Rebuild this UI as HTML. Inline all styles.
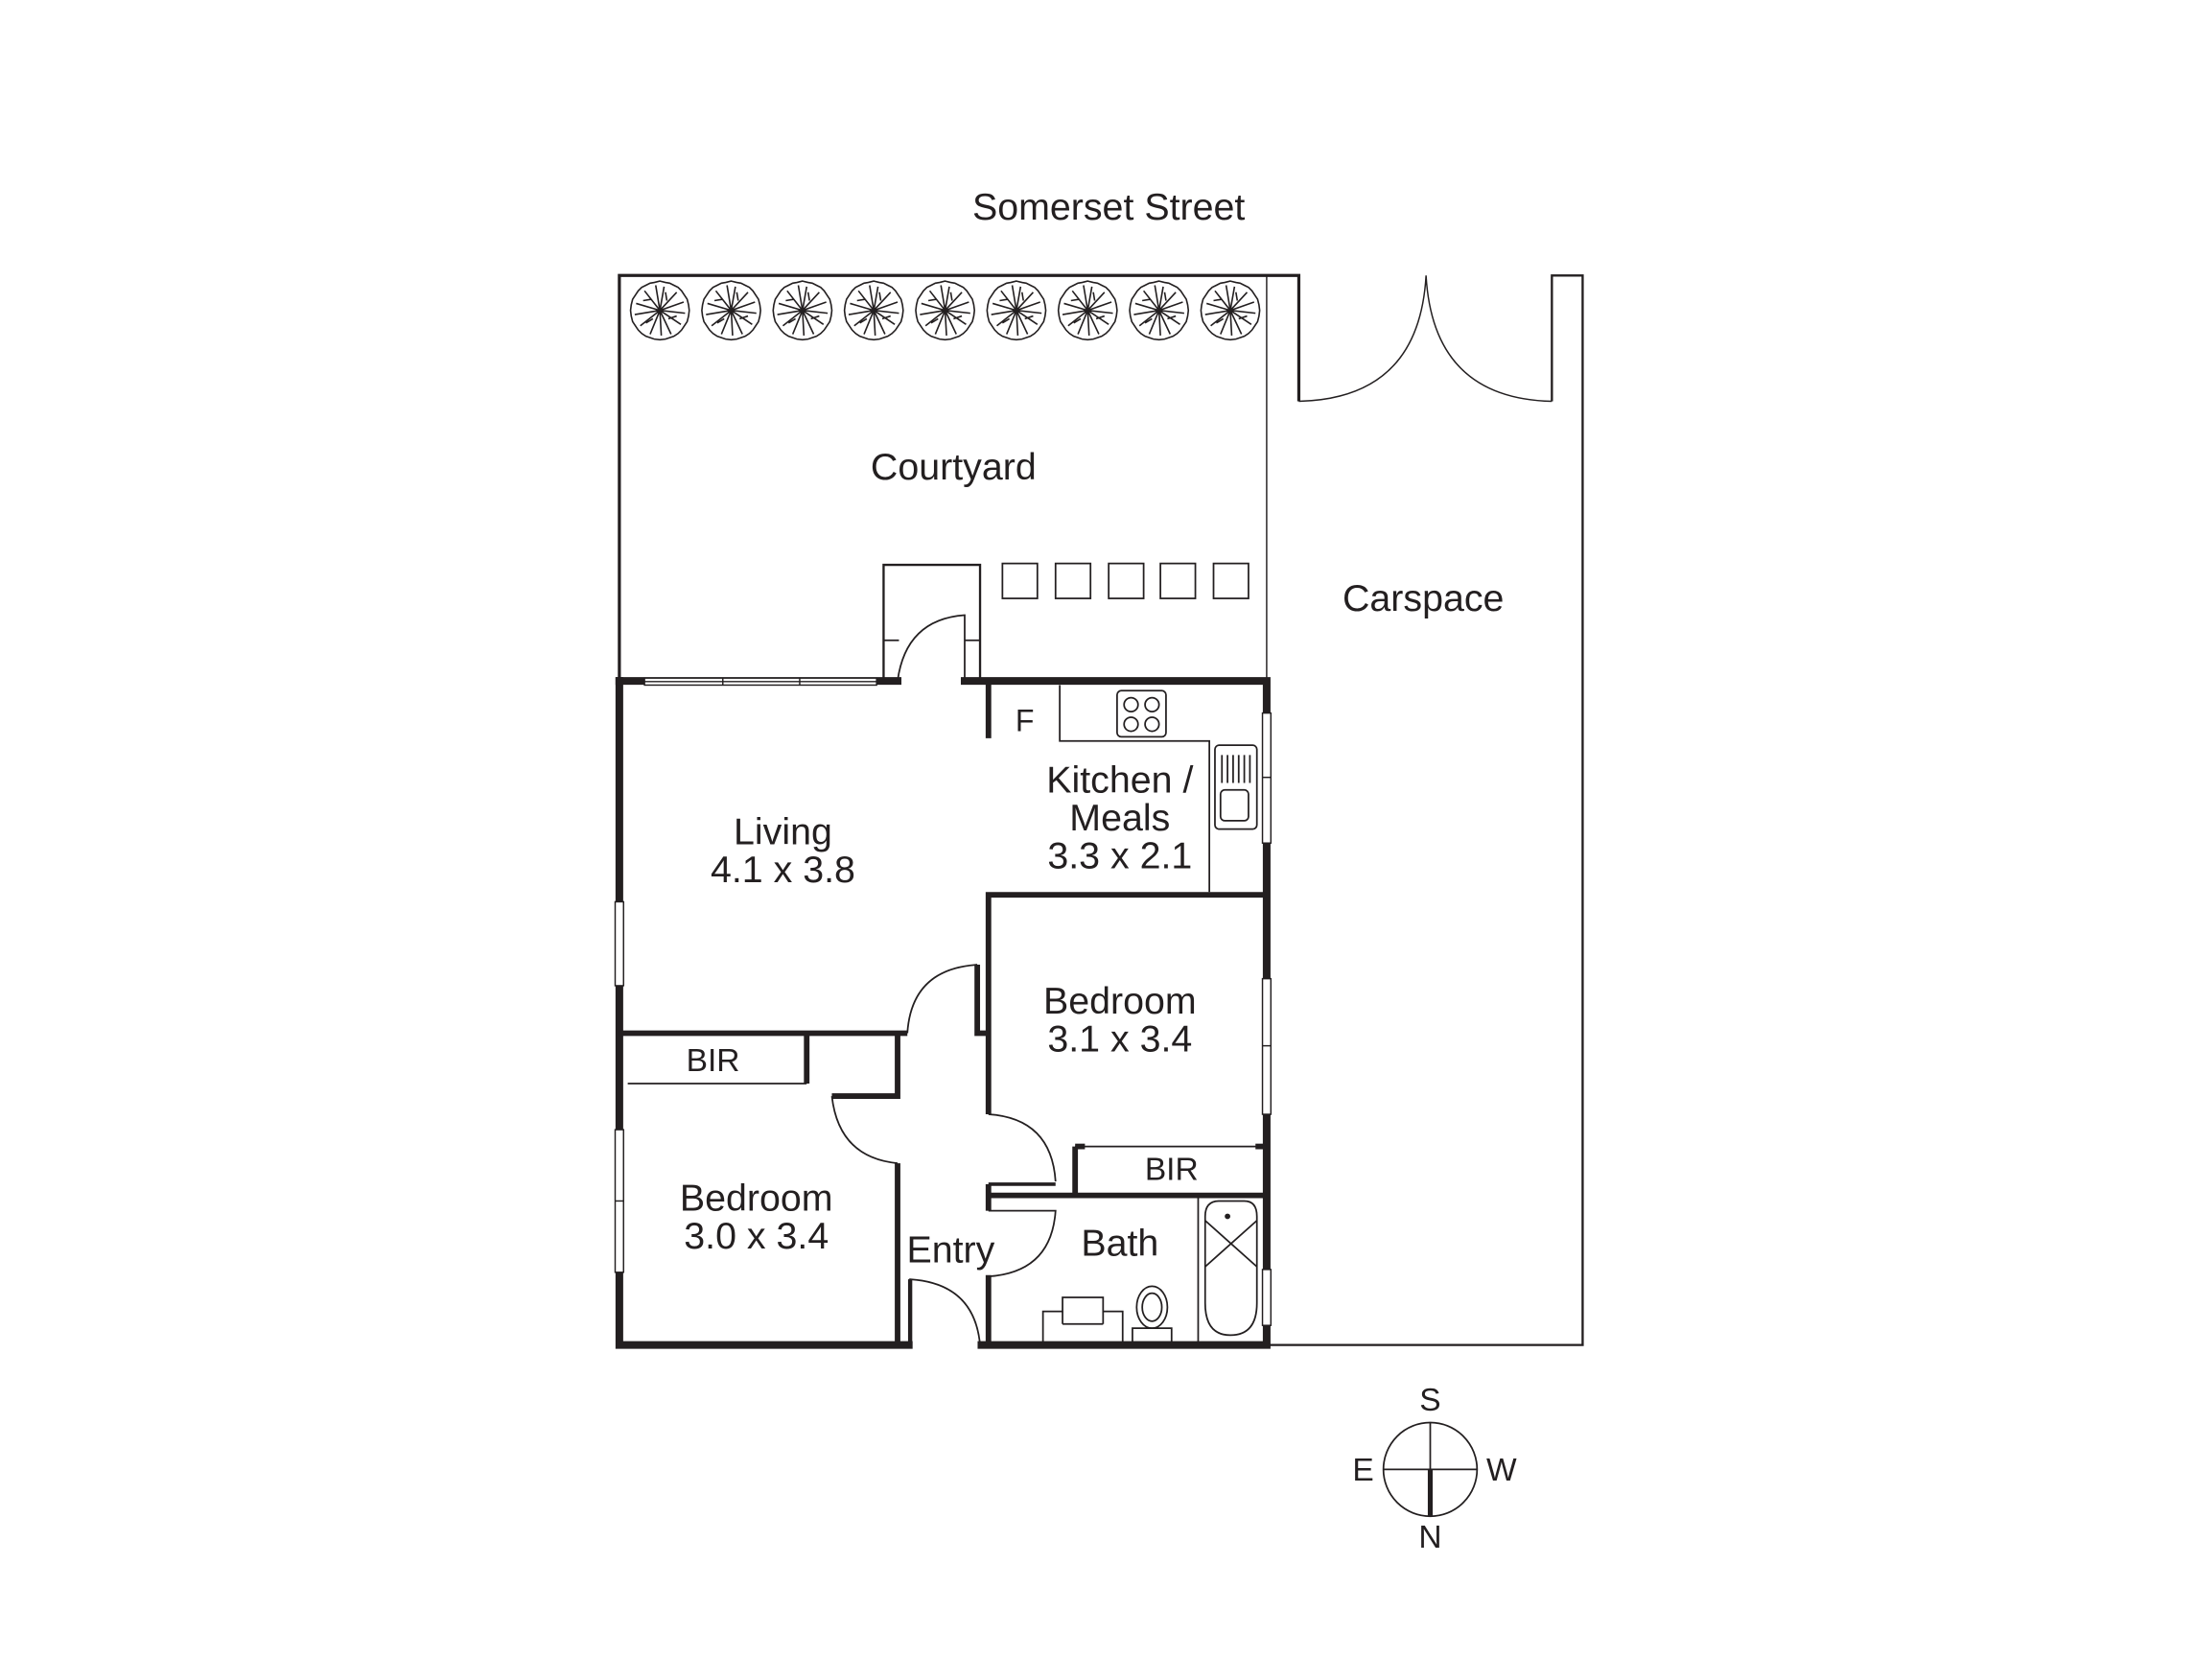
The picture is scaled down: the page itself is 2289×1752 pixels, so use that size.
<!DOCTYPE html>
<html><head><meta charset="utf-8"><style>
html,body{margin:0;padding:0;background:#fff;}
svg{display:block;}
text{font-family:"Liberation Sans",Arial,sans-serif;fill:#231f20;text-anchor:middle;}
</style></head><body>
<svg width="2289" height="1752" viewBox="0 0 1570 1201.6" xmlns="http://www.w3.org/2000/svg">
<defs>
<g id="tree" fill="none" stroke="#231f20" stroke-width="1.1">
<polygon points="0,-21 4,-20 7,-19.5 10,-18 13,-16.5 15.5,-14 17.5,-11 19.5,-8 20.5,-4 21,0 20.5,4 19.5,8 17.5,11 15.5,14 13,16.5 10,18.5 7,19.5 4,20.5 0,21 -4,20.5 -7,19.5 -10,18.5 -13,16.5 -15.5,14 -17.5,11 -19.5,8 -20.5,4 -21,0 -20.5,-4 -19.5,-8 -17.5,-11 -15.5,-14 -13,-16.5 -10,-18 -7,-19.5 -4,-20"/>
<path d="M0,0 L-3,-18 M0,0 L3,-17 M0,0 L12,-13 M0,0 L17,-6 M0,0 L18,2 M0,0 L15,10 M0,0 L8,17 M0,0 L1,18 M0,0 L-7,17 M0,0 L-14,11 M0,0 L-18,3 M0,0 L-17,-5 M0,0 L-11,-14 M-6,-8 L-12,-7 M6,6 L12,4 M-5,6 L-10,9 M5,-7 L4,-13"/>
</g>
</defs>
<text x="793" y="157" font-size="27">Somerset Street</text>
<g fill="none" stroke="#231f20">
<path d="M443,487 V197 H929 V287" stroke-width="2.2"/>
<line x1="906" y1="197" x2="906" y2="487" stroke-width="1"/>
<path d="M1110,287 V197 H1132 V962 H906" stroke-width="1.6"/>
<path d="M929,287 Q1015,285 1020,197 Q1025,285 1110,287" stroke-width="1"/>
</g>
<use href="#tree" x="472" y="222"/><use href="#tree" x="523" y="222"/><use href="#tree" x="574" y="222"/>
<use href="#tree" x="625" y="222"/><use href="#tree" x="676" y="222"/><use href="#tree" x="727" y="222"/>
<use href="#tree" x="778" y="222"/><use href="#tree" x="829" y="222"/><use href="#tree" x="880" y="222"/>
<g fill="none" stroke="#231f20" stroke-width="1.2">
<rect x="717" y="403" width="25" height="25"/><rect x="755" y="403" width="25" height="25"/>
<rect x="793" y="403" width="25" height="25"/><rect x="830" y="403" width="25" height="25"/>
<rect x="868" y="403" width="25" height="25"/>
<path d="M632,487 V404 H701 V487" stroke-width="1.6"/>
<line x1="632" y1="458" x2="643" y2="458"/><line x1="690" y1="458" x2="701" y2="458"/>
<path d="M690,487 V440 Q648,443 642,487" stroke-width="1.2"/>
</g>
<g fill="none" stroke="#231f20" stroke-width="5.5" stroke-linecap="square">
<path d="M443,487 V962 H650"/>
<path d="M702,962 H906 V487 H690"/>
<path d="M642,487 H443"/>
</g>
<g fill="#fff" stroke="#231f20" stroke-width="1">
<rect x="461" y="485" width="166" height="5"/>
<line x1="517" y1="485" x2="517" y2="490"/><line x1="572" y1="485" x2="572" y2="490"/>
<line x1="461" y1="487.5" x2="627" y2="487.5"/>
<rect x="440" y="645" width="6" height="60"/><rect x="440" y="808" width="6" height="102"/>
<line x1="440" y1="859" x2="446" y2="859"/>
<rect x="903" y="510" width="6" height="93"/><line x1="903" y1="556" x2="909" y2="556"/>
<rect x="903" y="700" width="6" height="97"/><line x1="903" y1="748" x2="909" y2="748"/>
<rect x="903" y="908" width="6" height="40"/>
</g>
<g fill="none" stroke="#231f20" stroke-width="4">
<line x1="707" y1="489" x2="707" y2="528"/>
<path d="M906,640 H707 V797"/>
<line x1="707" y1="847" x2="707" y2="866"/>
<line x1="707" y1="912" x2="707" y2="962"/>
<path d="M443,739 H649"/>
<path d="M699,690 V739 H707"/>
<path d="M577,739 V775"/>
<path d="M642,739 V784 H595"/>
<line x1="642" y1="832" x2="642" y2="962"/>
<path d="M707,855 H906"/>
<line x1="769" y1="820" x2="769" y2="855"/>
<line x1="769" y1="820" x2="776" y2="820"/><line x1="898" y1="820" x2="906" y2="820"/>
<line x1="707" y1="847" x2="755" y2="847" stroke-width="2.5"/>
</g>
<g fill="none" stroke="#231f20" stroke-width="1.2">
<line x1="449" y1="775" x2="577" y2="775"/>
<line x1="769" y1="820" x2="906" y2="820"/>
<path d="M758,490 V530 H865 V638"/>
<rect x="799" y="494" width="35" height="33" rx="3"/>
<circle cx="809" cy="504" r="5"/><circle cx="824" cy="504" r="5"/>
<circle cx="809" cy="518" r="5"/><circle cx="824" cy="518" r="5"/>
<rect x="869" y="533" width="30" height="60" rx="3"/>
<rect x="873" y="565" width="20" height="22" rx="3"/>
<path d="M874,540 V560 M878,540 V560 M882,540 V560 M886,540 V560 M890,540 V560 M894,540 V560"/>
<path d="M699,690 Q652,693 649,739"/>
<path d="M595,784 Q600,828 642,832"/>
<path d="M707,797 Q752,800 755,845"/>
<path d="M707,866 H755 Q752,910 707,913"/>
<path d="M651,962 V915 Q697,918 701,962"/>
<line x1="651" y1="915" x2="651" y2="962" stroke-width="3"/>
<line x1="857" y1="857" x2="857" y2="962"/>
<path d="M862,870 Q862,859 872,859 H890 Q899,859 899,870 V932 Q899,955 880,955 Q862,955 862,932 Z"/>
<path d="M862,873 L899,906 M899,873 L862,906"/>
<ellipse cx="824" cy="935" rx="11" ry="15"/><ellipse cx="824" cy="935" rx="7" ry="10"/>
<rect x="810" y="950" width="28" height="10"/>
<path d="M746,960 V938 H760 V928 H789 V938 H803 V960"/>
<line x1="760" y1="938" x2="760" y2="947"/><line x1="760" y1="947" x2="789" y2="947"/><line x1="789" y1="938" x2="789" y2="947"/>
<circle cx="1023" cy="1051" r="33.5"/>
<line x1="989.5" y1="1051" x2="1056.5" y2="1051"/>
<line x1="1023" y1="1017.5" x2="1023" y2="1051"/>
</g>
<circle cx="878" cy="870" r="2" fill="#231f20"/>
<line x1="1023" y1="1051" x2="1023" y2="1084.5" stroke="#231f20" stroke-width="3.5"/>
<text x="1023" y="1009" font-size="23">S</text>
<text x="975" y="1059" font-size="23">E</text>
<text x="1074" y="1059" font-size="23">W</text>
<text x="1023" y="1107" font-size="23">N</text>
<text x="682" y="343" font-size="27">Courtyard</text>
<text x="1018" y="437" font-size="27">Carspace</text>
<text x="733" y="523" font-size="22">F</text>
<text x="560" y="604" font-size="27">Living</text>
<text x="560" y="631" font-size="27">4.1 x 3.8</text>
<text x="801" y="567" font-size="27">Kitchen /</text>
<text x="801" y="594" font-size="27">Meals</text>
<text x="801" y="621" font-size="27">3.3 x 2.1</text>
<text x="801" y="725" font-size="27">Bedroom</text>
<text x="801" y="752" font-size="27">3.1 x 3.4</text>
<text x="510" y="766" font-size="23">BIR</text>
<text x="838" y="844" font-size="23">BIR</text>
<text x="541" y="866" font-size="27">Bedroom</text>
<text x="541" y="893" font-size="27">3.0 x 3.4</text>
<text x="680" y="903" font-size="27">Entry</text>
<text x="801" y="898" font-size="27">Bath</text>
</svg>
</body></html>
